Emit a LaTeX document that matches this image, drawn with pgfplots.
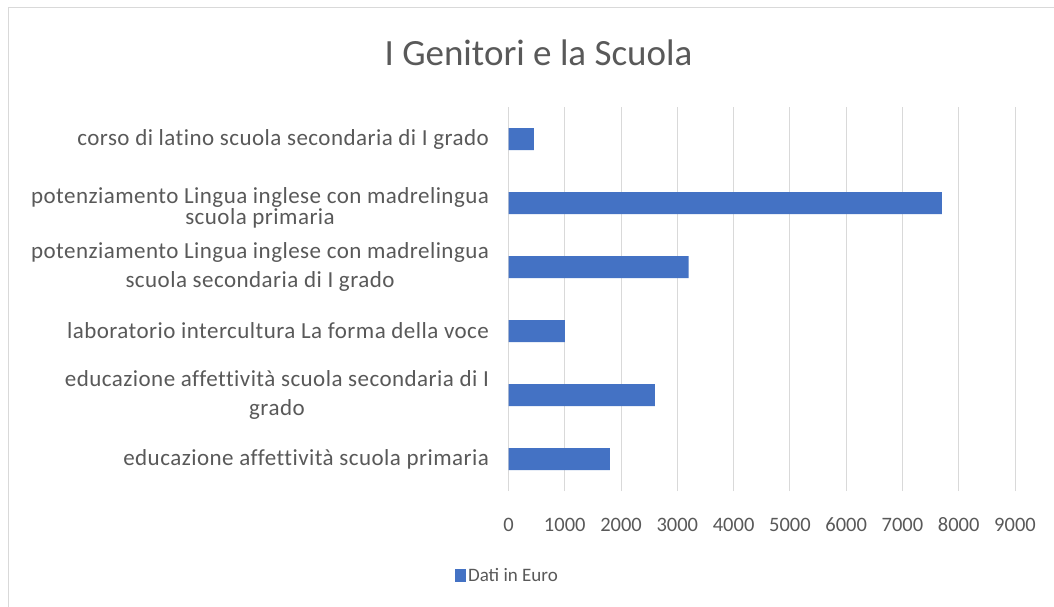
\documentclass[border=0pt]{standalone}
\usepackage{fontspec}
\setmainfont{Carlito}
\newfontfamily\labelfont[LetterSpace=2,Ligatures=NoCommon]{Carlito}
\usepackage{pgfplots}
\pgfplotsset{compat=1.18}
\definecolor{barblue}{HTML}{4472C4}
\definecolor{txt}{HTML}{595959}
\definecolor{gridc}{HTML}{D9D9D9}
\begin{document}
\begin{tikzpicture}[x=1pt,y=1pt]
\useasboundingbox (0,0) rectangle (1054,606);
\fill[white] (0,0) rectangle (1054,606);
\draw[gridc, line width=1pt] (8,-10) -- (8,598) -- (1070,598);
\node[txt, font=\fontsize{37}{44}\selectfont] at (538.5,553) {I Genitori e la Scuola};
\begin{axis}[
  at={(508.5pt,115pt)}, anchor=south west,
  scale only axis, width=506.5pt, height=384pt,
  xbar, bar width=22pt,
  xmin=0, xmax=9000, ymin=-0.5, ymax=5.5,
  xtick={0,1000,...,9000},
  ytick={0,...,5},
  yticklabels={
    {educazione affettività scuola primaria},
    {educazione affettività scuola secondaria di I\\grado},
    {laboratorio intercultura La forma della voce},
    {potenziamento Lingua inglese con madrelingua\\scuola secondaria di I grado},
    {\mbox{}\\[-2.5pt]potenziamento Lingua inglese con madrelingua\\[-7.5pt]scuola primaria},
    {corso di latino scuola secondaria di I grado}
  },
  axis line style={draw=none},
  major tick length=0pt,
  xmajorgrids, major grid style={gridc, line width=1pt},
  tick label style={txt},
  yticklabel style={align=center, xshift=-16pt, font=\labelfont\fontsize{23}{28.5}\selectfont},
  xticklabel style={anchor=base, yshift=-40pt, font=\fontsize{20.5}{25}\selectfont},
  /pgf/number format/assume math mode=true,
  scaled x ticks=false,
  /pgf/number format/1000 sep={},
  legend style={at={(-0.002,-0.221)}, anchor=center, draw=none, fill=none,
    font=\fontsize{19}{22}\selectfont, text=txt},
]
\addplot[fill=barblue, draw=none,
  legend image code/.code={\fill[barblue] (-10pt,-6.5pt) rectangle (1pt,6.5pt);}]
  coordinates {(1800,0) (2600,1) (1000,2) (3200,3) (7700,4) (450,5)};
\legend{Dati in Euro}
\end{axis}
\end{tikzpicture}
\end{document}
